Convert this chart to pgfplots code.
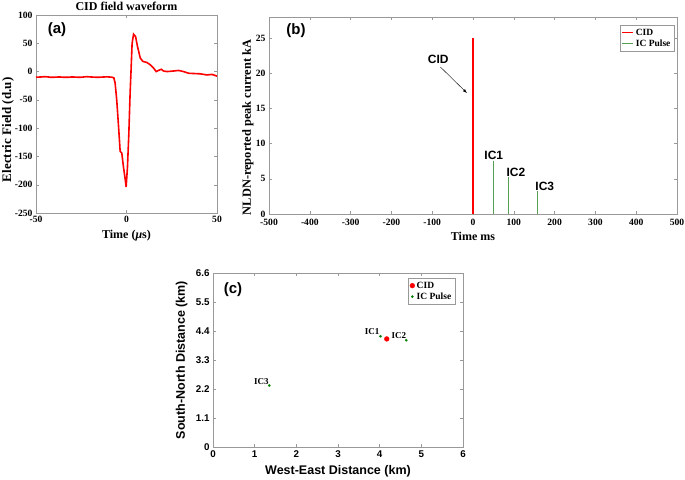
\documentclass[border=0pt]{standalone}
\usepackage{fontspec}
\setmainfont{Liberation Serif}
\setsansfont{Liberation Sans}
\usepackage{pgfplots}
\pgfplotsset{compat=1.18}
\definecolor{icgreen}{rgb}{0.33,0.63,0.33}
\definecolor{dkgreen}{rgb}{0,0.5,0}
\definecolor{boxgray}{gray}{0.6}
\newcommand{\B}[1]{\textbf{#1}}
\begin{document}
\begin{tikzpicture}
\path[use as bounding box] (0pt,0pt) rectangle (685pt,479pt);
\pgfplotsset{
  mybox/.style={
    scale only axis, anchor=south west,
    axis line style={boxgray},
    every tick/.style={boxgray},
    major tick length=3pt,
    tick align=inside,
    xtick pos=both, ytick pos=both,
    xticklabel pos=lower, yticklabel pos=left,
    tick label style={font=\bfseries\fontsize{9.6}{11}\selectfont, text=black},
    label style={font=\bfseries\fontsize{12}{14}\selectfont},
    legend style={font=\bfseries\fontsize{9.5}{11}\selectfont, draw=boxgray, inner sep=1.5pt, row sep=-1pt},
  }
}
% ---------- (a)
\begin{axis}[mybox, at={(36pt,266pt)}, width=181pt, height=198pt,
  xmin=-50, xmax=50, ymin=-250, ymax=100,
  xtick={-50,0,50}, xticklabels={\B{-50},\B{0},\B{50}},
  ytick={-250,-200,-150,-100,-50,0,50,100},
  yticklabels={\B{-250},\B{-200},\B{-150},\B{-100},\B{-50},\B{0},\B{50},\B{100}},
  title={CID field waveform},
  title style={font=\bfseries\fontsize{12}{14}\selectfont, yshift=-5pt},
  xlabel={Time (\textit{μ}s)},
  ylabel={Electric Field (d.u)},
  ylabel style={font=\bfseries\fontsize{13}{15}\selectfont, at={(axis description cs:-0.155,0.42)}, anchor=center},
  xlabel style={at={(axis description cs:0.5,-0.115)}, anchor=center},
]
\addplot[red, line width=1.6pt] coordinates {
(-50,-10)(-47,-9.5)(-45,-9)(-42,-10)(-40,-10)(-37,-9.5)(-35,-10)(-32,-10)(-30,-9.5)(-27,-10)(-25,-10)(-22,-9)(-20,-9.5)(-17,-10)(-15,-10)(-12,-9.5)(-10,-9.5)(-8,-10)
(-7,-11)(-6.3,-20)(-5.4,-50)(-4.4,-97)(-3.5,-141)(-2.6,-144)(-1.7,-168)(-0.7,-191)(-0.2,-204)(0.55,-168)(1.3,-109)(2.0,-38)(2.6,9)(3.1,50)(3.9,66)(5.0,62)(6.1,44)(7.6,24)(9.0,18)(11.3,16)(13.1,12)(15,6)(16.4,0)(17.7,2)(19.2,4)(20.5,1)(22.3,0)(26,1)(28.8,2)(31.5,0)(34.3,-3)(40.8,-4)(44.5,-6)(47.2,-5)(50,-8)
};
\node[font=\sffamily\bfseries\fontsize{15}{17}\selectfont] at (axis cs:-38.4,73.5) {(a)};
\end{axis}
% ---------- (b)
\begin{axis}[mybox, at={(269pt,265pt)}, width=408pt, height=197pt,
  xmin=-500, xmax=500, ymin=0, ymax=28,
  xtick={-500,-400,-300,-200,-100,0,100,200,300,400,500},
  xticklabels={\B{-500},\B{-400},\B{-300},\B{-200},\B{-100},\B{0},\B{100},\B{200},\B{300},\B{400},\B{500}},
  xticklabel style={yshift=-1.5pt},
  ytick={0,5,10,15,20,25}, yticklabels={\B{0},\B{5},\B{10},\B{15},\B{20},\B{25}},
  xlabel={Time ms},
  ylabel={NLDN-reported peak current kA},
  xlabel style={at={(axis description cs:0.5,-0.112)}, anchor=center},
  ylabel style={font=\bfseries\fontsize{12.4}{14}\selectfont, at={(axis description cs:-0.052,0.44)}, anchor=center},
  legend style={at={(0.993,0.959)}, anchor=north east},
  legend cell align=left,
]
\addplot[color=red, line width=1.3pt, ycomb, legend image code/.code={\draw[color=red, line width=1.3pt] (0pt,0pt) -- (11pt,0pt);}] coordinates {(0,25)};
\addlegendentry{CID}
\addplot[color=icgreen, line width=1pt, ycomb, legend image code/.code={\draw[color=icgreen, line width=1.3pt] (0pt,0pt) -- (11pt,0pt);}] coordinates {(49,7.5)(87,5.2)(157,3.3)};
\addlegendentry{IC Pulse}
\node[font=\sffamily\bfseries\fontsize{15}{17}\selectfont] at (axis cs:-434,26.0) {(b)};
\node[font=\sffamily\bfseries\fontsize{12}{14}\selectfont] at (axis cs:-85,22.0) {CID};
\draw[-latex, black, thin] (axis cs:-80,20.9) -- (axis cs:-15,17.2);
\node[font=\sffamily\bfseries\fontsize{12}{14}\selectfont] at (axis cs:51,8.3) {IC1};
\node[font=\sffamily\bfseries\fontsize{12}{14}\selectfont] at (axis cs:105,5.9) {IC2};
\node[font=\sffamily\bfseries\fontsize{12}{14}\selectfont] at (axis cs:176,3.9) {IC3};
\end{axis}
% ---------- (c)
\begin{axis}[mybox, at={(213pt,32pt)}, width=250pt, height=174pt,
  xmin=0, xmax=6, ymin=0, ymax=6.6,
  xtick={0,1,2,3,4,5,6}, xticklabels={\B{0},\B{1},\B{2},\B{3},\B{4},\B{5},\B{6}},
  ytick={0,1.1,2.2,3.3,4.4,5.5,6.6},
  yticklabels={\B{0},\B{1.1},\B{2.2},\B{3.3},\B{4.4},\B{5.5},\B{6.6}},
  tick label style={font=\sffamily\bfseries\fontsize{9.8}{12}\selectfont},
  label style={font=\sffamily\bfseries\fontsize{12.5}{14}\selectfont},
  xlabel={West-East Distance (km)},
  ylabel={South-North Distance (km)},
  xlabel style={at={(axis description cs:0.5,-0.138)}, anchor=center},
  ylabel style={at={(axis description cs:-0.125,0.5)}, anchor=center},
  legend style={at={(0.968,0.971)}, anchor=north east},
  legend cell align=left,
]
\addplot[only marks, mark=*, mark size=2.4pt, red, mark options={draw=red, fill=red}] coordinates {(4.17,4.10)};
\addlegendentry{CID}
\addplot[only marks, mark=*, mark size=1.1pt, dkgreen, mark options={draw=dkgreen, fill=dkgreen}] coordinates {(4.02,4.20)(4.64,4.05)(1.35,2.33)};
\addlegendentry{IC Pulse}
\node[font=\sffamily\bfseries\fontsize{15}{17}\selectfont] at (axis cs:0.48,5.96) {(c)};
\node[font=\bfseries\fontsize{9}{10}\selectfont] at (axis cs:3.82,4.36) {IC1};
\node[font=\bfseries\fontsize{9}{10}\selectfont] at (axis cs:4.46,4.23) {IC2};
\node[font=\bfseries\fontsize{9}{10}\selectfont] at (axis cs:1.16,2.50) {IC3};
\end{axis}
\end{tikzpicture}
\end{document}
